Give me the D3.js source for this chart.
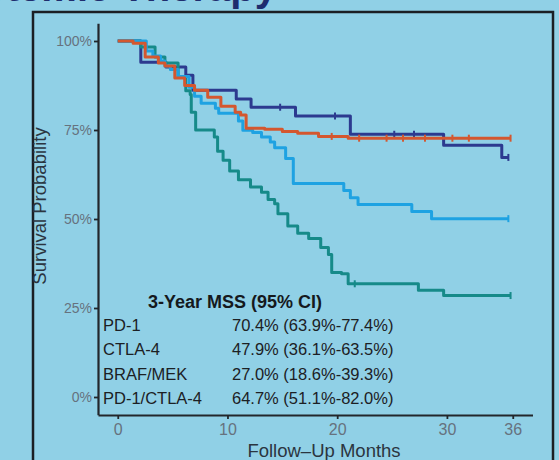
<!DOCTYPE html>
<html>
<head>
<meta charset="utf-8">
<script src="https://cdn.jsdelivr.net/npm/d3@7"></script>
<style>
  body { margin: 0; background: #90d0e6; }
  svg { display: block; font-family: "Liberation Sans", Arial, sans-serif; }
  .axis path, .axis line { stroke: #22262b; }
  .axis text { fill: #66727e; }
</style>
</head>
<body>
<div id="chart-area"></div>
<script>
// Kaplan-Meier curves (months, survival)
const pd1Months = [0, 1.4, 2.5, 3.7, 4.3, 5.2, 6.1, 7.0, 8.2, 9.4, 10.7, 11.2, 11.7, 13.4, 15.0, 16.4, 18.3, 21.0]
const pd1Surv = [1.0, 0.994, 0.955, 0.938, 0.93, 0.896, 0.875, 0.862, 0.842, 0.817, 0.80, 0.792, 0.755, 0.752, 0.746, 0.741, 0.732, 0.727]
const pd1Censor = [19.5, 22, 24.5, 26, 28, 30.5, 32, 35.8]

const ctla4Months = [0, 2.6, 3.2, 3.9, 4.3, 4.8, 5.5, 6.5, 7.0, 7.6, 8.9, 9.2, 11.0, 11.4, 12.3, 13.1, 13.9, 14.3, 15.3, 16.0, 20.6, 21.2, 21.9, 26.8, 28.6]
const ctla4Surv = [1.0, 0.972, 0.958, 0.944, 0.93, 0.92, 0.90, 0.87, 0.845, 0.825, 0.811, 0.797, 0.775, 0.749, 0.743, 0.73, 0.716, 0.70, 0.67, 0.60, 0.58, 0.56, 0.541, 0.521, 0.501]
const ctla4Censor = [35.6]

const brafMonths = [0, 2.1, 3.4, 4.3, 5.5, 6.2, 6.6, 6.7, 7.1, 8.8, 9.1, 9.6, 10.2, 11.0, 12.1, 13.1, 13.7, 14.3, 14.6, 15.5, 16.4, 17.4, 18.5, 19.2, 19.5, 20.4, 21.0, 27.4, 29.7]
const brafSurv = [1.0, 0.983, 0.955, 0.938, 0.90, 0.86, 0.85, 0.80, 0.75, 0.73, 0.69, 0.665, 0.635, 0.61, 0.59, 0.575, 0.555, 0.543, 0.515, 0.48, 0.46, 0.445, 0.42, 0.40, 0.35, 0.346, 0.318, 0.30, 0.285]
const brafCensor = [21.6, 35.8]

const comboMonths = [0, 2.1, 4.4, 6.2, 6.85, 10.8, 12.15, 16.2, 21.2, 29.7, 35.0]
const comboSurv = [1.0, 0.94, 0.927, 0.904, 0.862, 0.837, 0.814, 0.789, 0.738, 0.707, 0.673]
const comboCensor = [14.8, 19.8, 25.2, 27.0, 35.6]

const seriesNames = ["PD-1", "CTLA-4", "BRAF/MEK", "PD-1/CTLA-4"]
const seriesEnd = [35.8, 35.6, 35.8, 35.6]
const mssText = ["70.4% (63.9%-77.4%)", "47.9% (36.1%-63.5%)", "27.0% (18.6%-39.3%)", "64.7% (51.1%-82.0%)"]
const colors = ["#d4572f", "#1ea2e2", "#168a89", "#2c3a8f"]

const xTicks = [0, 10, 20, 30, 36]
const yTicks = [0, 0.25, 0.5, 0.75, 1]

const series = [
  { months: pd1Months, surv: pd1Surv, censor: pd1Censor },
  { months: ctla4Months, surv: ctla4Surv, censor: ctla4Censor },
  { months: brafMonths, surv: brafSurv, censor: brafCensor },
  { months: comboMonths, surv: comboSurv, censor: comboCensor }
]

const WIDTH = 559, HEIGHT = 460

const x = d3.scaleLinear().domain([-1.8, 37.8]).range([98, 532.5])
const y = d3.scaleLinear().domain([-0.05, 1.05]).range([414.8, 23.2])

const svg = d3.select("#chart-area").append("svg")
  .attr("width", WIDTH)
  .attr("height", HEIGHT)

svg.append("rect")
  .attr("width", WIDTH).attr("height", HEIGHT)
  .attr("fill", "#90d0e6")

// slide title, cut off by the photo
svg.append("text")
  .attr("x", 277).attr("y", 1)
  .attr("text-anchor", "end")
  .attr("font-size", 40).attr("font-weight", "bold")
  .attr("fill", "#1e2d6e")
  .text("Systemic Therapy")

// figure frame
svg.append("rect")
  .attr("x", 33).attr("y", 12)
  .attr("width", 520).attr("height", 470)
  .attr("fill", "none")
  .attr("stroke", "#1b1f24")
  .attr("stroke-width", 2.5)

const stepLine = d3.line()
  .x(d => x(d[0]))
  .y(d => y(d[1]))
  .curve(d3.curveStepAfter)

const survAt = (s, m) => {
  let v = s.surv[0]
  s.months.forEach((t, i) => { if (t <= m) v = s.surv[i] })
  return v
}

// draw back to front: combo, braf, ctla4, pd1
const order = [3, 2, 1, 0]
order.forEach(i => {
  const s = series[i]
  const pts = s.months.map((m, j) => [m, s.surv[j]])
  pts.push([seriesEnd[i], s.surv[s.surv.length - 1]])
  svg.append("path")
    .attr("d", stepLine(pts))
    .attr("fill", "none")
    .attr("stroke", colors[i])
    .attr("stroke-width", 3)
    .attr("stroke-linejoin", "round")

  svg.selectAll(null).data(s.censor).enter().append("line")
    .attr("x1", d => x(d)).attr("x2", d => x(d))
    .attr("y1", d => y(survAt(s, d)) - 3.5)
    .attr("y2", d => y(survAt(s, d)) + 3.5)
    .attr("stroke", colors[i])
    .attr("stroke-width", 2)
})

// axes
const leftAxis = d3.axisLeft(y)
  .tickValues(yTicks)
  .tickFormat(d3.format(".0%"))
  .tickSizeInner(4).tickSizeOuter(0).tickPadding(2)
const yAxisG = svg.append("g")
  .attr("class", "axis")
  .attr("transform", "translate(98,0)")
  .call(leftAxis)
yAxisG.selectAll("text").attr("font-size", 14)

const bottomAxis = d3.axisBottom(x)
  .tickValues(xTicks)
  .tickSizeInner(4).tickSizeOuter(0).tickPadding(5)
const xAxisG = svg.append("g")
  .attr("class", "axis")
  .attr("transform", "translate(0,415)")
  .call(bottomAxis)
xAxisG.selectAll("text").attr("font-size", 16)

svg.selectAll(".axis path.domain").attr("stroke-width", 2.2)
svg.selectAll(".axis .tick line").attr("stroke-width", 1.8)

svg.append("text")
  .attr("x", 324).attr("y", 456.5)
  .attr("text-anchor", "middle")
  .attr("font-size", 18.5)
  .attr("fill", "#2b3540")
  .text("Follow\u2013Up Months")

svg.append("text")
  .attr("transform", "translate(46,206) rotate(-90)")
  .attr("text-anchor", "middle")
  .attr("font-size", 18.5)
  .attr("fill", "#2b3540")
  .text("Survival Probability")

// 3-year MSS table
svg.append("text")
  .attr("x", 148).attr("y", 308)
  .attr("font-size", 18).attr("font-weight", "bold")
  .attr("fill", "#15191d")
  .text("3-Year MSS (95% CI)")

const rowY = d3.scalePoint().domain(seriesNames).range([331, 404])

svg.selectAll(".row-name").data(seriesNames).enter().append("text")
  .attr("class", "row-name")
  .attr("x", 103).attr("y", d => rowY(d))
  .attr("font-size", 16.5).attr("fill", "#1c2024")
  .text(d => d)

svg.selectAll(".row-val").data(mssText).enter().append("text")
  .attr("class", "row-val")
  .attr("x", 232).attr("y", (d, i) => rowY(seriesNames[i]))
  .attr("font-size", 16.5).attr("fill", "#1c2024")
  .text(d => d)
</script>
</body>
</html>
